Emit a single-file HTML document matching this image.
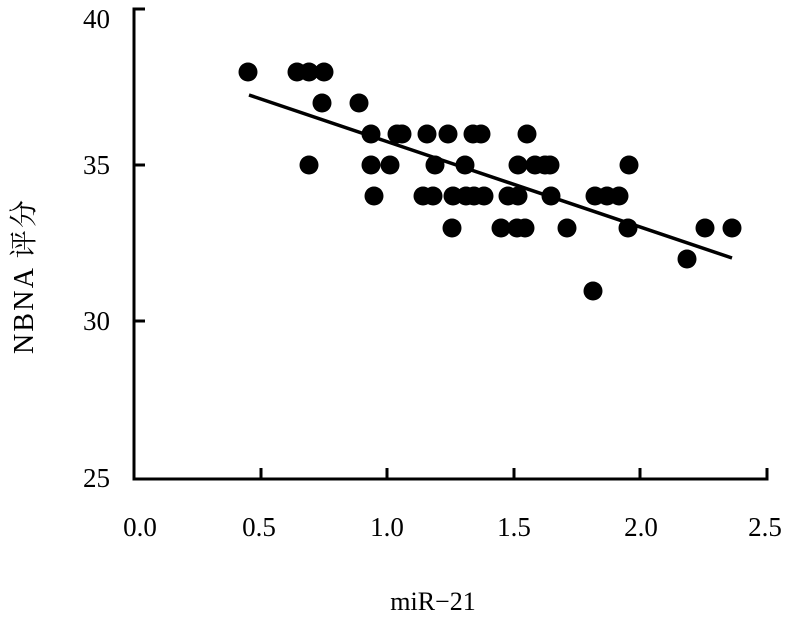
<!DOCTYPE html>
<html><head><meta charset="utf-8"><style>
html,body{margin:0;padding:0;background:#fff;width:804px;height:618px;overflow:hidden}
text{font-family:"Liberation Serif","Noto Serif CJK SC",serif;fill:#000}
</style></head><body>
<svg width="804" height="618" viewBox="0 0 804 618" xmlns="http://www.w3.org/2000/svg">
<g stroke="#000" stroke-width="3" fill="none">
<path d="M145 9 H134 V479 H767 V468"/>
<path d="M134 165 H145 M134 321 H145"/>
<path d="M261 479 V468 M387 479 V468 M514 479 V468 M640 479 V468"/>
<line x1="249" y1="95" x2="732" y2="258" stroke-width="3.5"/>
</g>
<g fill="#000">
<circle cx="248" cy="72" r="9.5"/><circle cx="297" cy="72" r="9.5"/><circle cx="309" cy="72" r="9.5"/><circle cx="324" cy="72" r="9.5"/>
<circle cx="322" cy="103" r="9.5"/><circle cx="359" cy="103" r="9.5"/>
<circle cx="371" cy="134" r="9.5"/><circle cx="397" cy="134" r="9.5"/><circle cx="402" cy="134" r="9.5"/><circle cx="427" cy="134" r="9.5"/><circle cx="448" cy="134" r="9.5"/><circle cx="473" cy="134" r="9.5"/><circle cx="481" cy="134" r="9.5"/><circle cx="527" cy="134" r="9.5"/>
<circle cx="309" cy="165" r="9.5"/><circle cx="371" cy="165" r="9.5"/><circle cx="390" cy="165" r="9.5"/><circle cx="435" cy="165" r="9.5"/><circle cx="465" cy="165" r="9.5"/><circle cx="518" cy="165" r="9.5"/><circle cx="535" cy="165" r="9.5"/><circle cx="545" cy="165" r="9.5"/><circle cx="550" cy="165" r="9.5"/><circle cx="629" cy="165" r="9.5"/>
<circle cx="374" cy="196" r="9.5"/><circle cx="423" cy="196" r="9.5"/><circle cx="433" cy="196" r="9.5"/><circle cx="453" cy="196" r="9.5"/><circle cx="466" cy="196" r="9.5"/><circle cx="474" cy="196" r="9.5"/><circle cx="484" cy="196" r="9.5"/><circle cx="508" cy="196" r="9.5"/><circle cx="518" cy="196" r="9.5"/><circle cx="551" cy="196" r="9.5"/><circle cx="595" cy="196" r="9.5"/><circle cx="607" cy="196" r="9.5"/><circle cx="619" cy="196" r="9.5"/>
<circle cx="452" cy="228" r="9.5"/><circle cx="501" cy="228" r="9.5"/><circle cx="517" cy="228" r="9.5"/><circle cx="525" cy="228" r="9.5"/><circle cx="567" cy="228" r="9.5"/><circle cx="628" cy="228" r="9.5"/><circle cx="705" cy="228" r="9.5"/><circle cx="732" cy="228" r="9.5"/>
<circle cx="687" cy="259" r="9.5"/>
<circle cx="593" cy="291" r="9.5"/>
</g>
<g font-size="27" text-anchor="end" fill="#222">
<text x="110" y="28">40</text>
<text x="110" y="174">35</text>
<text x="110" y="330">30</text>
<text x="110" y="487">25</text>
</g>
<g font-size="27" text-anchor="middle">
<text x="140" y="536">0.0</text>
<text x="259" y="536">0.5</text>
<text x="387" y="536">1.0</text>
<text x="514" y="536">1.5</text>
<text x="641" y="536">2.0</text>
<text x="765" y="536">2.5</text>
<text x="433" y="610" font-size="26">miR−21</text>
<text transform="translate(33,277) rotate(-90)" font-size="28" textLength="154">NBNA 评分</text>
</g>
</svg>
</body></html>
